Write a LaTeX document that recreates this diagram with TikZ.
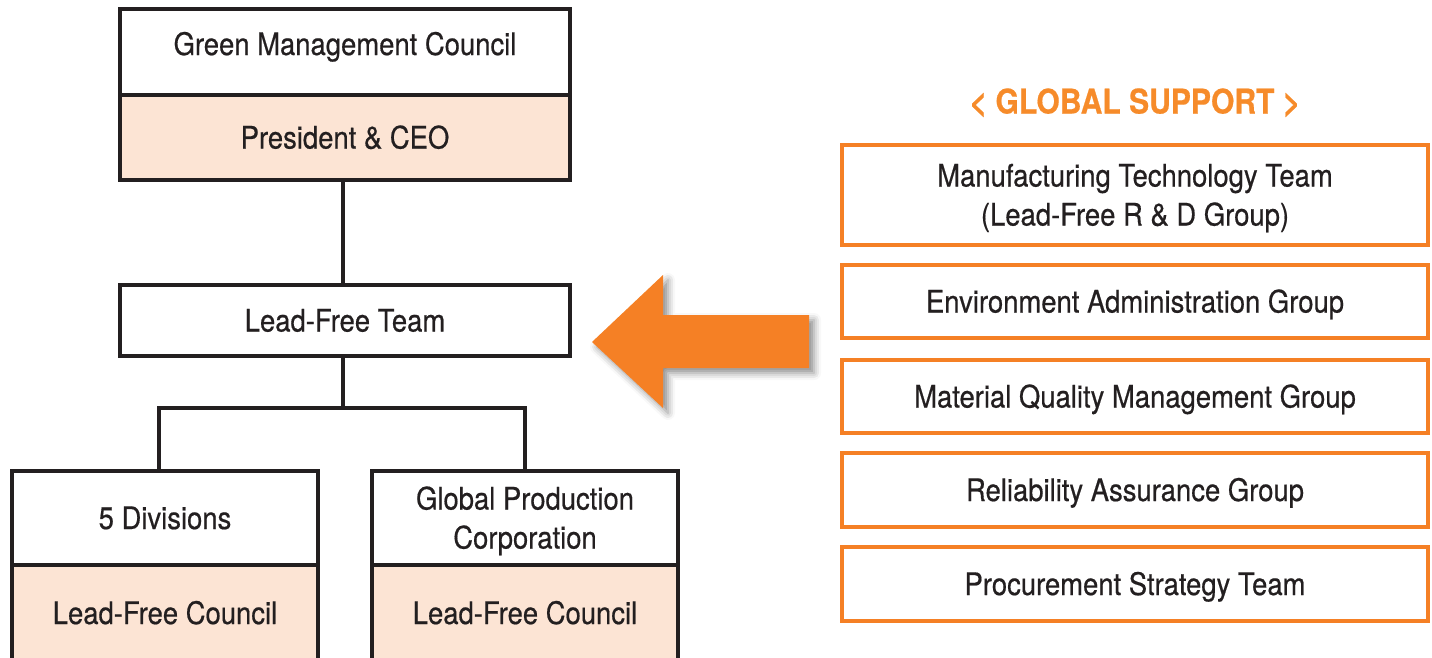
\documentclass[tikz,border=0pt]{standalone}
\usepackage{fontspec}
\setmainfont{TeX Gyre Heros}[FakeStretch=0.885,FakeBold=0.5]
\usetikzlibrary{shadows.blur}
\definecolor{txt}{HTML}{231F20}
\definecolor{peach}{HTML}{FCE4D4}
\definecolor{orng}{HTML}{F58025}
\definecolor{ttl}{HTML}{F68B2A}
\begin{document}
\begin{tikzpicture}[x=1pt,y=-1pt,
  box/.style={draw=txt,line width=4.5pt,fill=white,inner sep=0pt,outer sep=0pt,
    text=txt,align=center,text height=22pt,text depth=0pt,font=\fontsize{31}{39}\selectfont},
  pbox/.style={box,fill=peach},
  obox/.style={draw=orng,line width=4.5pt,fill=white,inner sep=0pt,outer sep=0pt,
    text=txt,align=center,text height=22pt,text depth=0pt,minimum width=586pt,font=\fontsize{31}{39}\selectfont},
  twoline/.style={text height=61pt,text depth=0pt},
  conn/.style={draw=txt,line width=4.5pt}]
\useasboundingbox (0,0) rectangle (1432,657);
% left hierarchy
\node[box,minimum width=450pt,minimum height=86pt,text depth=16pt] (gmc) at (345,52) {Green Management Council};
\node[pbox,minimum width=450pt,minimum height=85pt] (ceo) at (345,137.5) {President \& CEO};
\node[box,minimum width=450pt,minimum height=71pt] (lft) at (345,320.5) {Lead-Free Team};
\node[box,minimum width=306pt,minimum height=94pt] (div) at (165,518) {5 Divisions};
\node[pbox,minimum width=306pt,minimum height=96pt] (lfc1) at (165,613) {Lead-Free Council};
\node[box,twoline,minimum width=306pt,minimum height=94pt] (gpc) at (525,518) {Global Production\\Corporation};
\node[pbox,minimum width=306pt,minimum height=96pt] (lfc2) at (525,613) {Lead-Free Council};
\coordinate (j) at (343,408);
\coordinate (dl) at (159,471);
\path[conn] (ceo.south -| j) -- (lft.north -| j);
\path[conn] (lft.south -| j) -- (j);
\path[conn] (dl) |- (j) -| (gpc.north);
% arrow
\fill[orng,blur shadow={shadow xshift=5pt,shadow yshift=-5pt,shadow blur radius=7pt,shadow opacity=45}]
  (592,342) -- (663,275) -- (663,315) -- (809,315) -- (809,368) -- (663,368) -- (663,408) -- cycle;
% right column
\node[text=ttl,font=\fontsize{34}{40}\selectfont\bfseries,text height=25pt,text depth=0pt,inner sep=0pt] (title) at (1135,101) {< GLOBAL SUPPORT >};
\node[obox,twoline,minimum height=100pt] (r1) at (1135,195) {Manufacturing Technology Team\\(Lead-Free R \& D Group)};
\node[obox,minimum height=73pt] (r2) at (1135,301.5) {Environment Administration Group};
\node[obox,minimum height=73pt] (r3) at (1135,396.5) {Material Quality Management Group};
\node[obox,minimum height=74pt] (r4) at (1135,490) {Reliability Assurance Group};
\node[obox,minimum height=74pt] (r5) at (1135,584) {Procurement Strategy Team};
\end{tikzpicture}
\end{document}
